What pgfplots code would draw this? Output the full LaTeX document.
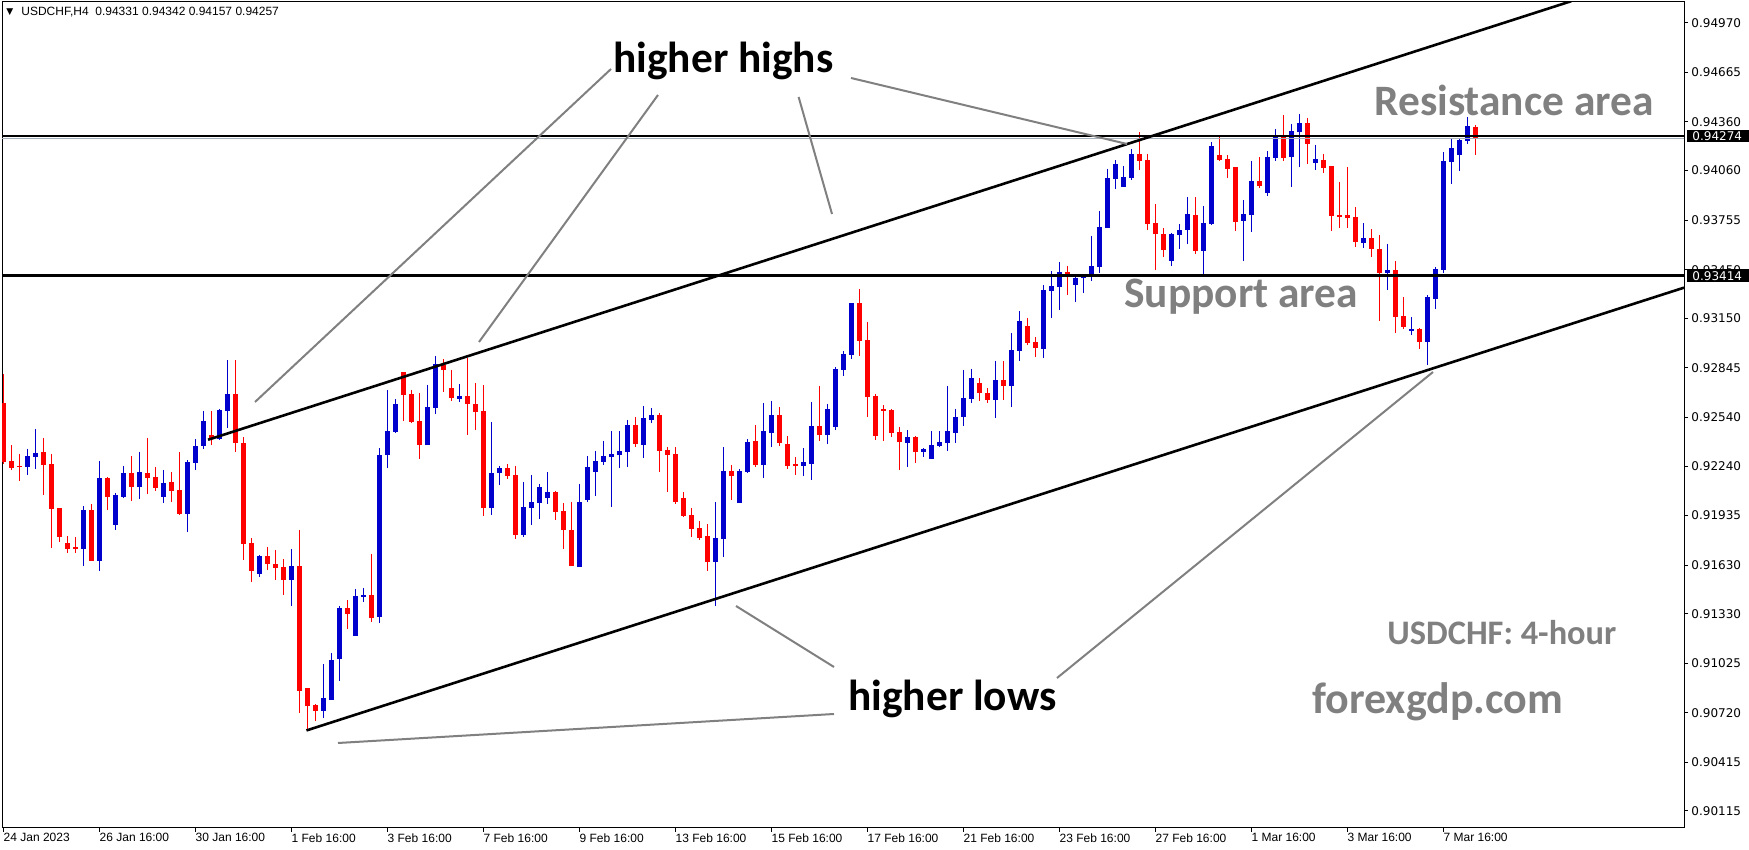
\documentclass[border=0pt]{standalone}
\usepackage{pgfplots}
\pgfplotsset{compat=1.18}
\usepackage{pgfplotstable}
\usepackage{fontspec}
\setmainfont{Liberation Sans}
\newfontfamily\carlito{Carlito}
\newfontfamily\dejavu{DejaVu Sans}
\definecolor{mtblue}{RGB}{0,0,205}
\definecolor{mtred}{RGB}{255,0,0}
\definecolor{anngray}{RGB}{128,128,128}
\definecolor{bidgray}{RGB}{165,175,185}

\pgfplotstableread{
i o h l c
0 0.92627 0.92806 0.92253 0.92267
1 0.92272 0.92370 0.92216 0.92230
2 0.92243 0.92315 0.92148 0.92236
3 0.92236 0.92345 0.92185 0.92302
4 0.92298 0.92469 0.92222 0.92321
5 0.92327 0.92413 0.92062 0.92249
6 0.92253 0.92315 0.91737 0.91978
7 0.91982 0.91982 0.91774 0.91805
8 0.91766 0.91809 0.91707 0.91731
9 0.91742 0.91803 0.91707 0.91731
10 0.91731 0.91994 0.91627 0.91970
11 0.91970 0.92007 0.91657 0.91657
12 0.91657 0.92272 0.91596 0.92167
13 0.92167 0.92173 0.91970 0.92048
14 0.91879 0.92074 0.91848 0.92062
15 0.92051 0.92241 0.92044 0.92198
16 0.92198 0.92302 0.92027 0.92113
17 0.92113 0.92327 0.92039 0.92204
18 0.92198 0.92413 0.92070 0.92169
19 0.92173 0.92235 0.92089 0.92107
20 0.92052 0.92216 0.92015 0.92136
21 0.92142 0.92204 0.92021 0.92089
22 0.92093 0.92327 0.91941 0.91947
23 0.91947 0.92278 0.91836 0.92265
24 0.92261 0.92407 0.92218 0.92364
25 0.92366 0.92580 0.92347 0.92518
26 0.92432 0.92580 0.92372 0.92409
27 0.92409 0.92592 0.92403 0.92586
28 0.92581 0.92894 0.92477 0.92684
29 0.92684 0.92894 0.92329 0.92384
30 0.92382 0.92419 0.91663 0.91762
31 0.91766 0.91797 0.91523 0.91596
32 0.91577 0.91692 0.91559 0.91686
33 0.91686 0.91742 0.91602 0.91639
34 0.91637 0.91723 0.91535 0.91614
35 0.91618 0.91668 0.91448 0.91540
36 0.91540 0.91731 0.91380 0.91625
37 0.91625 0.91846 0.90721 0.90856
38 0.90873 0.90873 0.90608 0.90764
39 0.90768 0.90774 0.90670 0.90731
40 0.90733 0.91021 0.90690 0.90811
41 0.90801 0.91089 0.90801 0.91045
42 0.91053 0.91378 0.90918 0.91366
43 0.91366 0.91415 0.91238 0.91331
44 0.91195 0.91483 0.91195 0.91440
45 0.91436 0.91489 0.91405 0.91446
46 0.91446 0.91699 0.91280 0.91306
47 0.91312 0.92352 0.91273 0.92308
48 0.92308 0.92709 0.92230 0.92456
49 0.92450 0.92653 0.92444 0.92623
50 0.92820 0.92820 0.92518 0.92680
51 0.92684 0.92709 0.92506 0.92512
52 0.92518 0.92690 0.92284 0.92370
53 0.92370 0.92740 0.92370 0.92604
54 0.92598 0.92918 0.92561 0.92869
55 0.92863 0.92900 0.92697 0.92832
56 0.92721 0.92832 0.92643 0.92660
57 0.92655 0.92746 0.92637 0.92672
58 0.92672 0.92906 0.92432 0.92625
59 0.92623 0.92752 0.92463 0.92573
60 0.92580 0.92740 0.91933 0.91982
61 0.91982 0.92512 0.91939 0.92198
62 0.92198 0.92241 0.92124 0.92228
63 0.92228 0.92253 0.92161 0.92179
64 0.92185 0.92241 0.91791 0.91816
65 0.91816 0.92142 0.91803 0.91988
66 0.91982 0.92185 0.91877 0.92019
67 0.92013 0.92130 0.91914 0.92111
68 0.92044 0.92204 0.92007 0.92081
69 0.92081 0.92087 0.91908 0.91957
70 0.91963 0.92013 0.91729 0.91846
71 0.91848 0.92021 0.91627 0.91627
72 0.91620 0.92130 0.91620 0.92021
73 0.92031 0.92302 0.92019 0.92235
74 0.92204 0.92333 0.92056 0.92272
75 0.92265 0.92395 0.92247 0.92302
76 0.92296 0.92456 0.91988 0.92315
77 0.92308 0.92456 0.92228 0.92333
78 0.92327 0.92524 0.92235 0.92493
79 0.92493 0.92543 0.92358 0.92376
80 0.92370 0.92610 0.92290 0.92536
81 0.92524 0.92598 0.92506 0.92555
82 0.92555 0.92567 0.92204 0.92333
83 0.92339 0.92358 0.92081 0.92308
84 0.92315 0.92358 0.92007 0.92021
85 0.92044 0.92081 0.91927 0.91933
86 0.91939 0.91982 0.91803 0.91853
87 0.91859 0.91902 0.91785 0.91797
88 0.91809 0.91883 0.91596 0.91651
89 0.91651 0.92021 0.91378 0.91797
90 0.91793 0.92358 0.91682 0.92210
91 0.92210 0.92247 0.92031 0.92179
92 0.92015 0.92222 0.92015 0.92210
93 0.92204 0.92407 0.92199 0.92389
94 0.92395 0.92493 0.92235 0.92247
95 0.92247 0.92629 0.92167 0.92456
96 0.92444 0.92641 0.92358 0.92555
97 0.92555 0.92604 0.92364 0.92382
98 0.92376 0.92426 0.92222 0.92243
99 0.92253 0.92296 0.92185 0.92243
100 0.92243 0.92352 0.92179 0.92265
101 0.92253 0.92635 0.92154 0.92487
102 0.92487 0.92734 0.92395 0.92434
103 0.92434 0.92623 0.92376 0.92592
104 0.92483 0.92851 0.92464 0.92838
105 0.92834 0.92949 0.92795 0.92931
106 0.92926 0.93245 0.92902 0.93245
107 0.93245 0.93331 0.92920 0.93013
108 0.93017 0.93128 0.92544 0.92668
109 0.92672 0.92684 0.92403 0.92427
110 0.92592 0.92617 0.92397 0.92581
111 0.92586 0.92592 0.92421 0.92446
112 0.92450 0.92483 0.92216 0.92390
113 0.92384 0.92464 0.92235 0.92419
114 0.92419 0.92427 0.92261 0.92329
115 0.92329 0.92353 0.92298 0.92345
116 0.92286 0.92456 0.92286 0.92370
117 0.92366 0.92456 0.92360 0.92389
118 0.92384 0.92734 0.92335 0.92456
119 0.92446 0.92592 0.92384 0.92543
120 0.92544 0.92832 0.92489 0.92660
121 0.92655 0.92838 0.92631 0.92783
122 0.92752 0.92783 0.92643 0.92692
123 0.92690 0.92721 0.92631 0.92649
124 0.92649 0.92888 0.92538 0.92771
125 0.92771 0.92888 0.92649 0.92735
126 0.92735 0.93060 0.92606 0.92955
127 0.92951 0.93196 0.92889 0.93134
128 0.93103 0.93153 0.92988 0.93000
129 0.93005 0.93035 0.92912 0.92970
130 0.92963 0.93356 0.92906 0.93325
131 0.93321 0.93442 0.93154 0.93350
132 0.93345 0.93498 0.93204 0.93436
133 0.93436 0.93473 0.93296 0.93405
134 0.93358 0.93424 0.93253 0.93399
135 0.93401 0.93424 0.93308 0.93411
136 0.93407 0.93658 0.93382 0.93473
137 0.93469 0.93814 0.93432 0.93713
138 0.93709 0.94071 0.93709 0.94015
139 0.94011 0.94126 0.93949 0.94101
140 0.93961 0.94089 0.93961 0.94021
141 0.94017 0.94194 0.94005 0.94163
142 0.94163 0.94298 0.94066 0.94122
143 0.94126 0.94163 0.93697 0.93734
144 0.93738 0.93855 0.93450 0.93672
145 0.93672 0.93707 0.93530 0.93573
146 0.93506 0.93678 0.93475 0.93672
147 0.93666 0.93732 0.93580 0.93695
148 0.93697 0.93898 0.93610 0.93793
149 0.93787 0.93898 0.93547 0.93567
150 0.93567 0.93843 0.93426 0.93738
151 0.93734 0.94237 0.93727 0.94212
152 0.94157 0.94274 0.94122 0.94126
153 0.94132 0.94157 0.94017 0.94072
154 0.94083 0.94083 0.93690 0.93746
155 0.93752 0.93880 0.93506 0.93793
156 0.93789 0.94120 0.93684 0.93994
157 0.93994 0.94144 0.93955 0.93968
158 0.93925 0.94181 0.93906 0.94144
159 0.94140 0.94317 0.94122 0.94280
160 0.94280 0.94403 0.94122 0.94140
161 0.94146 0.94348 0.93961 0.94305
162 0.94300 0.94409 0.94085 0.94354
163 0.94354 0.94385 0.94103 0.94226
164 0.94109 0.94218 0.94066 0.94132
165 0.94126 0.94163 0.94048 0.94079
166 0.94089 0.94089 0.93690 0.93783
167 0.93787 0.93990 0.93709 0.93777
168 0.93787 0.94083 0.93709 0.93770
169 0.93775 0.93836 0.93592 0.93623
170 0.93617 0.93738 0.93586 0.93645
171 0.93645 0.93701 0.93528 0.93580
172 0.93578 0.93664 0.93136 0.93432
173 0.93432 0.93608 0.93327 0.93450
174 0.93448 0.93506 0.93062 0.93161
175 0.93167 0.93284 0.93087 0.93099
176 0.93074 0.93161 0.93050 0.93085
177 0.93087 0.93091 0.92963 0.93007
178 0.93007 0.93294 0.92865 0.93282
179 0.93271 0.93469 0.93210 0.93454
180 0.93448 0.94175 0.93428 0.94120
181 0.94116 0.94253 0.93980 0.94202
182 0.94159 0.94263 0.94060 0.94249
183 0.94245 0.94391 0.94226 0.94335
184 0.94331 0.94342 0.94157 0.94257
}\candles

\pgfplotsset{
  candle/.style n args={2}{forget plot, draw=none, mark=none,
    error bars/.cd, y dir=both, y explicit, error mark=none,
    error bar style={draw=#1, line width=#2, line cap=butt}},
}

\begin{document}
\begin{tikzpicture}
\useasboundingbox (0,0) rectangle (874.5pt,425pt);
\begin{axis}[
  at={(1pt,11pt)}, anchor=south west,
  width=841pt, height=413pt, scale only axis,
  xmin=-0.16, xmax=210.1, ymin=0.90010, ymax=0.95099,
  clip mode=individual,
  axis line style={black, line width=0.5pt},
  xtick={0,12,...,180},
  xticklabels={24 Jan 2023,26 Jan 16:00,30 Jan 16:00,1 Feb 16:00,3 Feb 16:00,7 Feb 16:00,9 Feb 16:00,13 Feb 16:00,15 Feb 16:00,17 Feb 16:00,21 Feb 16:00,23 Feb 16:00,27 Feb 16:00,1 Mar 16:00,3 Mar 16:00,7 Mar 16:00},
  ytick={0.90115,0.90415,0.90720,0.91025,0.91330,0.91630,0.91935,0.92240,0.92540,0.92845,0.93150,0.93450,0.93755,0.94060,0.94360,0.94665,0.94970},
  yticklabels={0.90115,0.90415,0.90720,0.91025,0.91330,0.91630,0.91935,0.92240,0.92540,0.92845,0.93150,0.93450,0.93755,0.94060,0.94360,0.94665,0.94970},
  scaled y ticks=false,
  xtick pos=bottom, ytick pos=right, tick align=outside,
  major tick length=2pt,
  tick style={black, line width=0.5pt},
  xticklabel style={anchor=north west, inner sep=0pt, font=\fontsize{6}{7}\selectfont, yshift=-0.5pt},
  yticklabel style={anchor=west, inner sep=0pt, font=\dejavu\fontsize{6}{7}\selectfont, xshift=1.5pt},
]
% wicks
\addplot[candle={mtblue}{0.5pt}]
  table[x=i, y expr={\thisrow{c}>=\thisrow{o} ? 0.5*(\thisrow{h}+\thisrow{l}) : nan},
        y error expr={0.5*(\thisrow{h}-\thisrow{l})}] {\candles};
\addplot[candle={mtred}{0.5pt}]
  table[x=i, y expr={\thisrow{c}<\thisrow{o} ? 0.5*(\thisrow{h}+\thisrow{l}) : nan},
        y error expr={0.5*(\thisrow{h}-\thisrow{l})}] {\candles};
% bodies
\addplot[candle={mtblue}{2.5pt}]
  table[x=i, y expr={\thisrow{c}>=\thisrow{o} ? 0.5*(\thisrow{o}+\thisrow{c}) : nan},
        y error expr={max(0.5*abs(\thisrow{c}-\thisrow{o}),0.00003)}] {\candles};
\addplot[candle={mtred}{2.5pt}]
  table[x=i, y expr={\thisrow{c}<\thisrow{o} ? 0.5*(\thisrow{o}+\thisrow{c}) : nan},
        y error expr={max(0.5*abs(\thisrow{c}-\thisrow{o}),0.00003)}] {\candles};
% horizontal levels
\addplot[bidgray, line width=0.5pt] coordinates {(-1,0.94257) (215,0.94257)};
\addplot[black, line width=1.2pt] coordinates {(-1,0.94274) (215,0.94274)};
\addplot[black, line width=1.2pt] coordinates {(-1,0.93414) (215,0.93414)};
% channel
\addplot[black, line width=1.3pt] coordinates {(25.6,0.92402) (196,0.95104)};
\addplot[black, line width=1.3pt] coordinates {(37.9,0.90611) (210.1,0.93339)};
\end{axis}

\begin{scope}[x=0.5pt, y=-0.5pt, shift={(0pt,425pt)}]
% annotation lines
\begin{scope}[anngray, line width=1pt]
\draw (611,69) -- (255,402);
\draw (658,95) -- (479,342);
\draw (798.6,97) -- (832,214);
\draw (851,78) -- (1127,144);
\draw (834,667) -- (736,606);
\draw (834,714) -- (338,743);
\draw (1057,678) -- (1433,372);
\end{scope}
% annotation texts
\node[anchor=base west, inner sep=0pt, font=\carlito\bfseries\fontsize{21.7}{25}\selectfont] at (613,73) {higher highs};
\node[anchor=base west, inner sep=0pt, font=\carlito\bfseries\fontsize{21.7}{25}\selectfont] at (848,711) {higher lows};
\node[anchor=base west, inner sep=0pt, text=anngray, font=\carlito\bfseries\fontsize{21.7}{25}\selectfont] at (1374,116) {Resistance area};
\node[anchor=base west, inner sep=0pt, text=anngray, font=\carlito\bfseries\fontsize{21.7}{25}\selectfont] at (1124,308) {Support area};
\node[anchor=base west, inner sep=0pt, text=anngray, font=\carlito\bfseries\fontsize{17.2}{20}\selectfont] at (1387,645) {USDCHF: 4-hour};
\node[anchor=base west, inner sep=0pt, text=anngray, font=\carlito\bfseries\fontsize{22}{25}\selectfont] at (1312,714) {forexgdp.com};
% price boxes
\fill[black] (1687,130) rectangle (1749,142.5);
\node[anchor=west, inner sep=0pt, text=white, font=\dejavu\fontsize{6}{7}\selectfont] at (1692,136.2) {0.94274};
\fill[black] (1687,269.5) rectangle (1749,282);
\node[anchor=west, inner sep=0pt, text=white, font=\dejavu\fontsize{6}{7}\selectfont] at (1692,275.7) {0.93414};
% header
\node[anchor=west, inner sep=0pt, font=\dejavu\fontsize{4.5}{5}\selectfont] at (6,12) {▼};
\node[anchor=west, inner sep=0pt, font=\fontsize{6}{7}\selectfont] at (21,12) {USDCHF,H4\ \ 0.94331 0.94342 0.94157 0.94257};
\end{scope}
\end{tikzpicture}
\end{document}
